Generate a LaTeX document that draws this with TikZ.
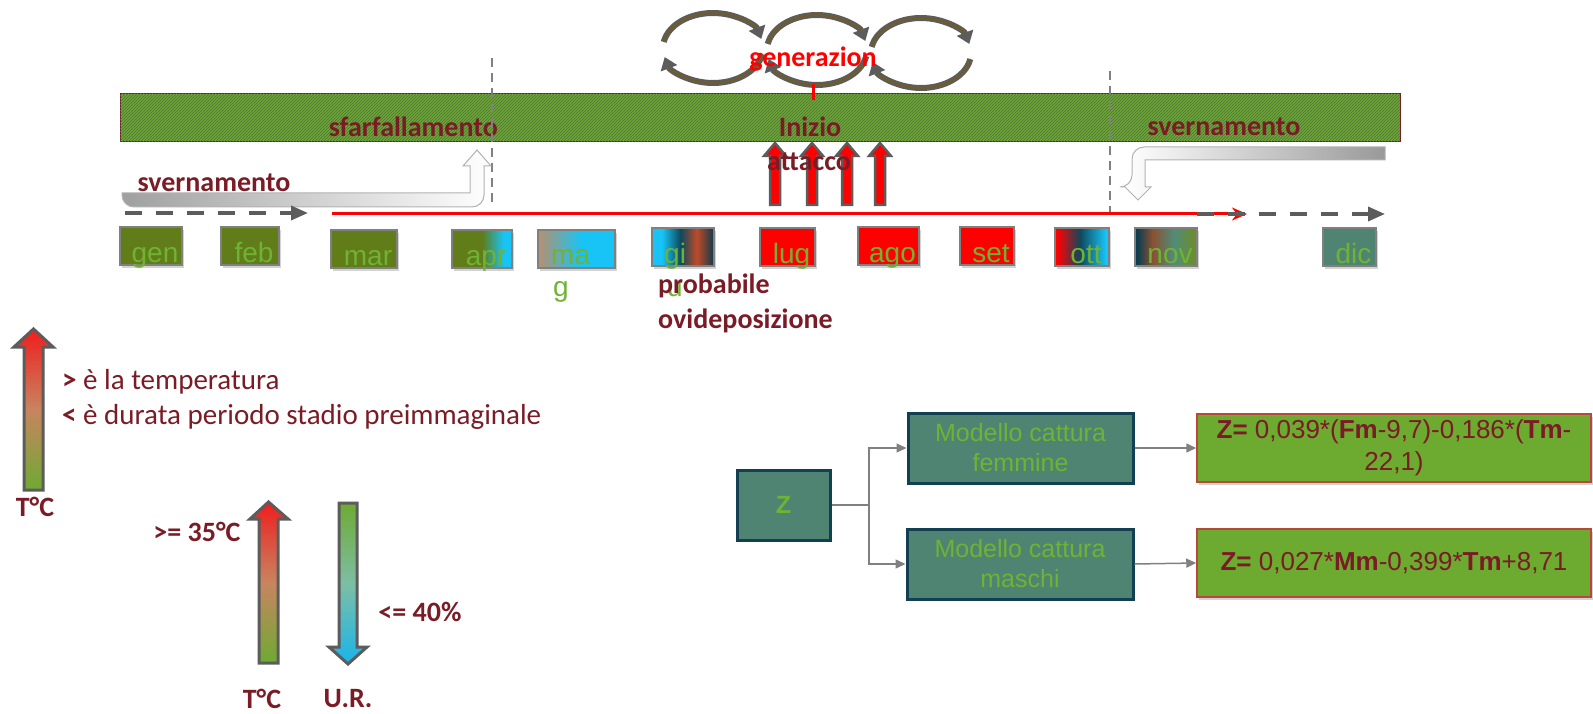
\documentclass[tikz,border=0pt]{standalone}
\usepackage{fontspec}
\setmainfont{Carlito}
\newfontfamily\arial{Liberation Sans}
\usetikzlibrary{arrows.meta,patterns,shadows}
\definecolor{rossoscuro}{RGB}{122,28,38}
\definecolor{verdebanda}{RGB}{106,168,52}
\definecolor{tratteggio}{RGB}{82,112,60}
\definecolor{oliva}{RGB}{96,125,26}
\definecolor{ciano}{RGB}{24,196,245}
\definecolor{tealscuro}{RGB}{14,72,92}
\definecolor{ruggine}{RGB}{190,74,40}
\definecolor{tan}{RGB}{183,144,110}
\definecolor{verdetesto}{RGB}{112,178,52}
\definecolor{tealgrigio}{RGB}{80,132,114}
\definecolor{bordoteal}{RGB}{18,64,82}
\definecolor{grigiofreccia}{RGB}{92,92,92}
\definecolor{marrone}{RGB}{112,92,40}
\definecolor{bordorosso}{RGB}{184,72,60}
\definecolor{verdeformula}{RGB}{108,170,48}
\definecolor{caldo}{RGB}{238,30,30}
\definecolor{salmone}{RGB}{200,132,96}
\definecolor{erba}{RGB}{110,170,50}
\definecolor{acqua}{RGB}{125,190,165}
\definecolor{cielo}{RGB}{25,180,235}
\pgfdeclarehorizontalshading{sfapr}{100bp}{color(0bp)=(oliva); color(25bp)=(oliva); color(50bp)=(oliva); color(68bp)=(ciano); color(100bp)=(ciano)}
\pgfdeclarehorizontalshading{sfmag}{100bp}{color(0bp)=(tan); color(25bp)=(tan); color(53bp)=(ciano); color(100bp)=(ciano)}
\pgfdeclarehorizontalshading{sfgiu}{100bp}{color(0bp)=(ciano); color(33bp)=(ciano); color(48bp)=(tealscuro); color(61bp)=(ruggine); color(75bp)=(tealscuro!80!black); color(100bp)=(tealscuro!80!black)}
\pgfdeclarehorizontalshading{sfott}{100bp}{color(0bp)=(red); color(27bp)=(red); color(48bp)=(tealscuro); color(72bp)=(ciano); color(100bp)=(ciano)}
\pgfdeclarehorizontalshading{sfnov}{100bp}{color(0bp)=(tealscuro!85!black); color(27bp)=(tealscuro!85!black); color(39bp)=(rgb,255:red,140;green,80;blue,50); color(56bp)=(rgb,255:red,80;green,140;blue,120); color(74bp)=(rgb,255:red,110;green,140;blue,40); color(100bp)=(rgb,255:red,110;green,140;blue,40)}
\begin{document}
\begin{tikzpicture}[x=1pt,y=-1pt,
 anello/.style={draw=grigiofreccia,line width=6pt,-{Triangle[length=12pt,width=17pt]},postaction={draw=marrone,line width=2pt,shorten >=12pt,-}},
 banda/.style={minimum width=1280pt,minimum height=48pt,inner sep=0pt,fill=verdebanda,postaction={pattern=north east lines,pattern color=tratteggio},draw=rossoscuro,line width=1pt},
 etichetta/.style={font=\fontsize{28}{34}\selectfont\bfseries,text=rossoscuro,inner sep=0pt},
 legenda/.style={font=\fontsize{29}{35}\selectfont,text=rossoscuro,inner sep=0pt,anchor=base west},
 verticale/.style={draw=gray,line width=2pt,dash pattern=on 9pt off 6pt},
 piegata/.style={draw=gray!60,line width=1pt},
 tratteggiata/.style={draw=grigiofreccia,line width=3.5pt,dash pattern=on 17pt off 14pt,-{Triangle[length=17pt,width=14pt]}},
 rossa/.style={draw=red,line width=3pt,-{Stealth[length=15pt,width=13pt]}},
 blocco/.style={fill=red,draw=grigiofreccia,line width=2.5pt,line join=miter},
 freccia/.style={draw=grigiofreccia,line width=3pt,line join=miter},
 mesebox/.style={draw=gray,line width=1.2pt,minimum height=38pt,inner sep=0pt,drop shadow={shadow xshift=2pt,shadow yshift=-3pt,opacity=0.35}},
 meselbl/.style={font=\arial\fontsize{28}{30}\selectfont,text=verdetesto,inner sep=0pt,anchor=base},
 modello/.style={fill=tealgrigio,draw=bordoteal,line width=3pt,text=verdetesto,font=\arial\fontsize{25}{30}\selectfont,align=center,inner sep=0pt},
 formula/.style={fill=verdeformula,draw=bordorosso,line width=1.5pt,text=rossoscuro,font=\arial\fontsize{26}{32}\selectfont,align=center,inner sep=0pt,minimum width=394pt,minimum height=68pt,drop shadow={shadow xshift=2pt,shadow yshift=-3pt,opacity=0.35}},
 connettore/.style={draw=gray,line width=1.5pt,-{Triangle[length=10pt,width=9pt]}}
]
\useasboundingbox (0,0) rectangle (1593,714);
\newcommand\mese[5]{
\node[mesebox,#5,minimum width={(#3-#2)*1pt}] (#1) at ({(#2+#3)/2},#4) {};
}
\foreach \cx/\cy in {713/48,817/50,921/53}{
\draw[anello] (\cx,\cy) ++(190:50 and 35) arc[start angle=190,end angle=345,x radius=50,y radius=35];
\draw[anello] (\cx,\cy) ++(10:50 and 35) arc[start angle=10,end angle=165,x radius=50,y radius=35];
}
\node[banda] (banda) at (760,118) {};
\node[etichetta,anchor=east] (sfarfallamento) at (498,127) {sfarfallamento};
\node[etichetta] (inizio) at (810,127) {Inizio};
\node[etichetta] (svernamento2) at (1224,127) {svernamento};
\coordinate (v1a) at (492,58);
\coordinate (v1b) at (492,205);
\coordinate (v2a) at (1110,71);
\coordinate (v2b) at (1110,216);
\path[verticale] (v1a) -- (v1b);
\path[verticale] (v2a) -- (v2b);
\node[etichetta,text=red] (generazioni) at (813,59) {generazion};
\path[draw=red,line width=3pt] (813,84) -- (813,100);
\shadedraw[piegata,left color=gray!75,right color=white] (122,193) -- (470,193) -- (470,166) -- (463,166) -- (477,150) -- (491,166) -- (484,166) [rounded corners=12pt] -- (484,207) -- (122,207) [sharp corners] -- cycle;
\shadedraw[piegata,left color=white,right color=gray!80] (1385,147) [rounded corners=12pt] -- (1132,147) -- (1132,187) [sharp corners] -- (1125,187) -- (1138,200) -- (1151,187) -- (1145,187) -- (1145,160) -- (1385,160) -- cycle;
\node[etichetta] (svernamento1) at (214,183) {svernamento};
\coordinate (rossoA) at (332,214);
\coordinate (rossoB) at (1247,214);
\path[rossa] (rossoA) -- (rossoB);
\coordinate (tratA) at (125,213);
\coordinate (tratB) at (308,213);
\coordinate (tratC) at (1197,214);
\coordinate (tratD) at (1385,214);
\path[tratteggiata] (tratA) -- (tratB);
\path[tratteggiata] (tratC) -- (tratD);
\foreach \x in {775,812,847,880}
\path[blocco] ({\x-5},205) -- ({\x-5},156) -- ({\x-11},156) -- (\x,143) -- ({\x+11},156) -- ({\x+5},156) -- ({\x+5},205) -- cycle;
\node[etichetta] (attacco) at (809,162) {attacco};
\mese{gen}{120}{182}{246}{fill=oliva}
\mese{feb}{221}{279}{246}{fill=oliva}
\mese{mar}{331}{397}{249}{fill=oliva}
\mese{apr}{452}{512}{249}{shade,shading=sfapr}
\mese{mag}{538}{615}{249}{shade,shading=sfmag}
\mese{giu}{652}{714}{247}{shade,shading=sfgiu}
\mese{lug}{760}{815}{247}{fill=red}
\mese{ago}{858}{919}{246}{fill=red}
\mese{set}{960}{1014}{246}{fill=red}
\mese{ott}{1055}{1109}{247}{shade,shading=sfott}
\mese{nov}{1135}{1197}{247}{shade,shading=sfnov}
\mese{dic}{1323}{1376}{247}{fill=tealgrigio}
\foreach \m in {gen,feb,mar,apr,lug,ago,set,ott,nov,dic}
\node[meselbl] (l\m) at ([xshift=4pt,yshift=3pt]\m.south) {\m};
\node[meselbl,anchor=base west] (lmag) at (551,265) {ma};
\node[meselbl,anchor=base west] (lmag2) at (553,296) {g};
\node[meselbl,anchor=base west] (lgiu) at (664,263) {gi};
\node[meselbl,anchor=base west] (lgiu2) at (667,296) {u};
\node[etichetta,anchor=base west] (probabile) at (658,293) {probabile};
\node[etichetta,anchor=base west] (ovideposizione) at (658,328) {ovideposizione};
\shadedraw[freccia,top color=caldo,bottom color=erba,middle color=salmone] (24,490) -- (24,347) -- (14,347) -- (33.5,329) -- (53,347) -- (43,347) -- (43,490) -- cycle;
\node[etichetta] (tc1) at (35,507) {T°C};
\node[legenda] (riga1) at (62,389) {\textbf{>} è la temperatura};
\node[legenda] (riga2) at (62,424) {\textbf{<} è durata periodo stadio preimmaginale};
\shadedraw[freccia,top color=caldo,bottom color=erba,middle color=salmone] (259,663) -- (259,519) -- (250,519) -- (268.5,502) -- (288,519) -- (278,519) -- (278,663) -- cycle;
\shadedraw[freccia,top color=erba,bottom color=cielo,middle color=acqua] (339,503) -- (339,647) -- (329,647) -- (348,664) -- (367,647) -- (357,647) -- (357,503) -- cycle;
\node[etichetta] (soglia1) at (197,532) {>= 35°C};
\node[etichetta] (soglia2) at (420,612) {<= 40\%};
\node[etichetta] (tc2) at (262,699) {T°C};
\node[etichetta] (ur) at (348,699) {U.R.};
\node[modello,minimum width=93pt,minimum height=70pt,font=\arial\fontsize{25}{30}\selectfont\bfseries] (z) at (783.5,505) {Z};
\node[modello,minimum width=225pt,minimum height=70pt] (femmine) at (1020.5,448) {Modello cattura\\femmine};
\node[modello,minimum width=226pt,minimum height=70pt] (maschi) at (1020,564) {Modello cattura\\maschi};
\node[formula] (ffem) at (1394,448) {\textbf{Z=} 0,039*(\textbf{Fm}-9,7)-0,186*(\textbf{Tm}-\\22,1)};
\node[formula] (fmas) at (1394,563) {\textbf{Z=} 0,027*\textbf{Mm}-0,399*\textbf{Tm}+8,71};
\coordinate (bivio) at (869,505);
\draw[connettore] (z.east) -- (bivio) |- (femmine.west);
\draw[connettore] (bivio) |- (maschi.west);
\draw[connettore] (femmine.east) -- (ffem.west);
\draw[connettore] (maschi.east) -- (fmas.west);
\end{tikzpicture}
\end{document}
